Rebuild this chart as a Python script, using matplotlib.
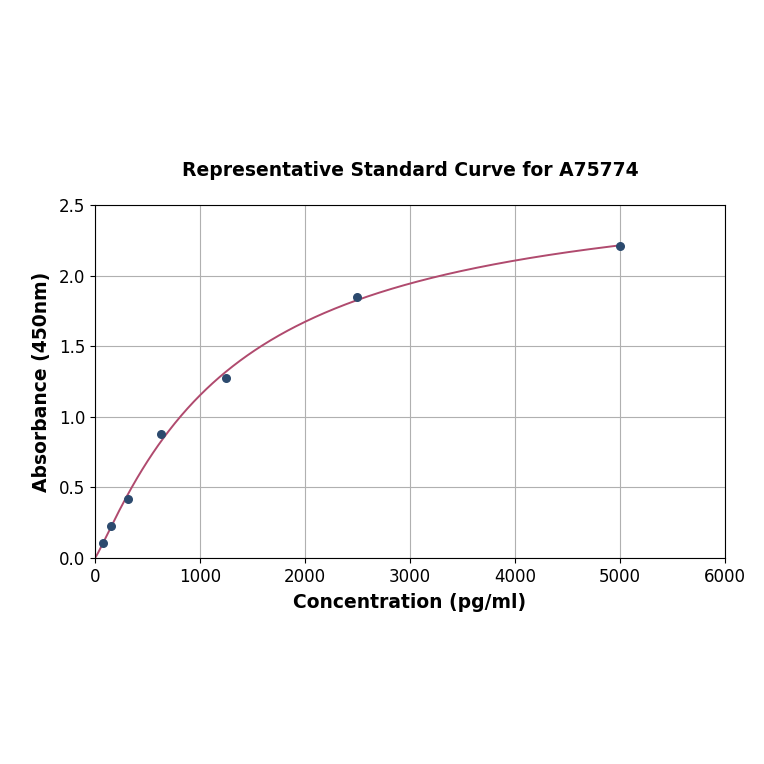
import numpy as np
import matplotlib
matplotlib.use("Agg")
import matplotlib.pyplot as plt

conc = [78, 156, 312, 625, 1250, 2500, 5000]
absorb = [0.106, 0.227, 0.418, 0.878, 1.275, 1.848, 2.21]

x = np.array(conc, float)
y = np.array(absorb, float)

# 4PL fit (a fixed at 0): y = d * x^b / (c^b + x^b), simple LM
def model(p, x):
    b, c, d = p
    return d * x**b / (c**b + x**b)

p = np.array([1.0, 1500.0, 2.8])
lam = 1e-3
def sse(p):
    return np.sum((model(p, x) - y) ** 2)
for _ in range(500):
    J = np.zeros((len(x), 3))
    for i in range(3):
        h = np.zeros(3); h[i] = 1e-6 * max(abs(p[i]), 1)
        J[:, i] = (model(p + h, x) - model(p - h, x)) / (2 * h[i])
    r = y - model(p, x)
    A = J.T @ J
    g = J.T @ r
    step = np.linalg.solve(A + lam * np.diag(np.diag(A)), g)
    pn = p + step
    if np.all(np.isfinite(pn)) and pn[1] > 0 and sse(pn) < sse(p):
        p = pn; lam *= 0.3
    else:
        lam *= 10

xs = np.linspace(0.01, 5000, 500)
ys = model(p, xs)

fig = plt.figure(figsize=(7.64, 7.64), dpi=100)
ax = fig.add_axes([0.1243, 0.2696, 0.8247, 0.4621])
ax.plot(xs, ys, color="#b04a6e", lw=1.4, zorder=2)
ax.scatter(x, y, s=30, color="#2c4a6e", zorder=3)
ax.set_xlim(0, 6000)
ax.set_ylim(0, 2.5)
ax.set_xticks([0, 1000, 2000, 3000, 4000, 5000, 6000])
ax.set_yticks([0, 0.5, 1.0, 1.5, 2.0, 2.5])
ax.grid(True, color="#b0b0b0", lw=0.8)
ax.set_axisbelow(True)
ax.tick_params(labelsize=12)
ax.set_xlabel("Concentration (pg/ml)", fontsize=13.5, fontweight="bold", labelpad=5)
ax.set_ylabel("Absorbance (450nm)", fontsize=13.5, fontweight="bold", labelpad=6)
ax.set_title("Representative Standard Curve for A75774", fontsize=13.5, fontweight="bold", pad=21)
fig.savefig("out.png", dpi=100)
